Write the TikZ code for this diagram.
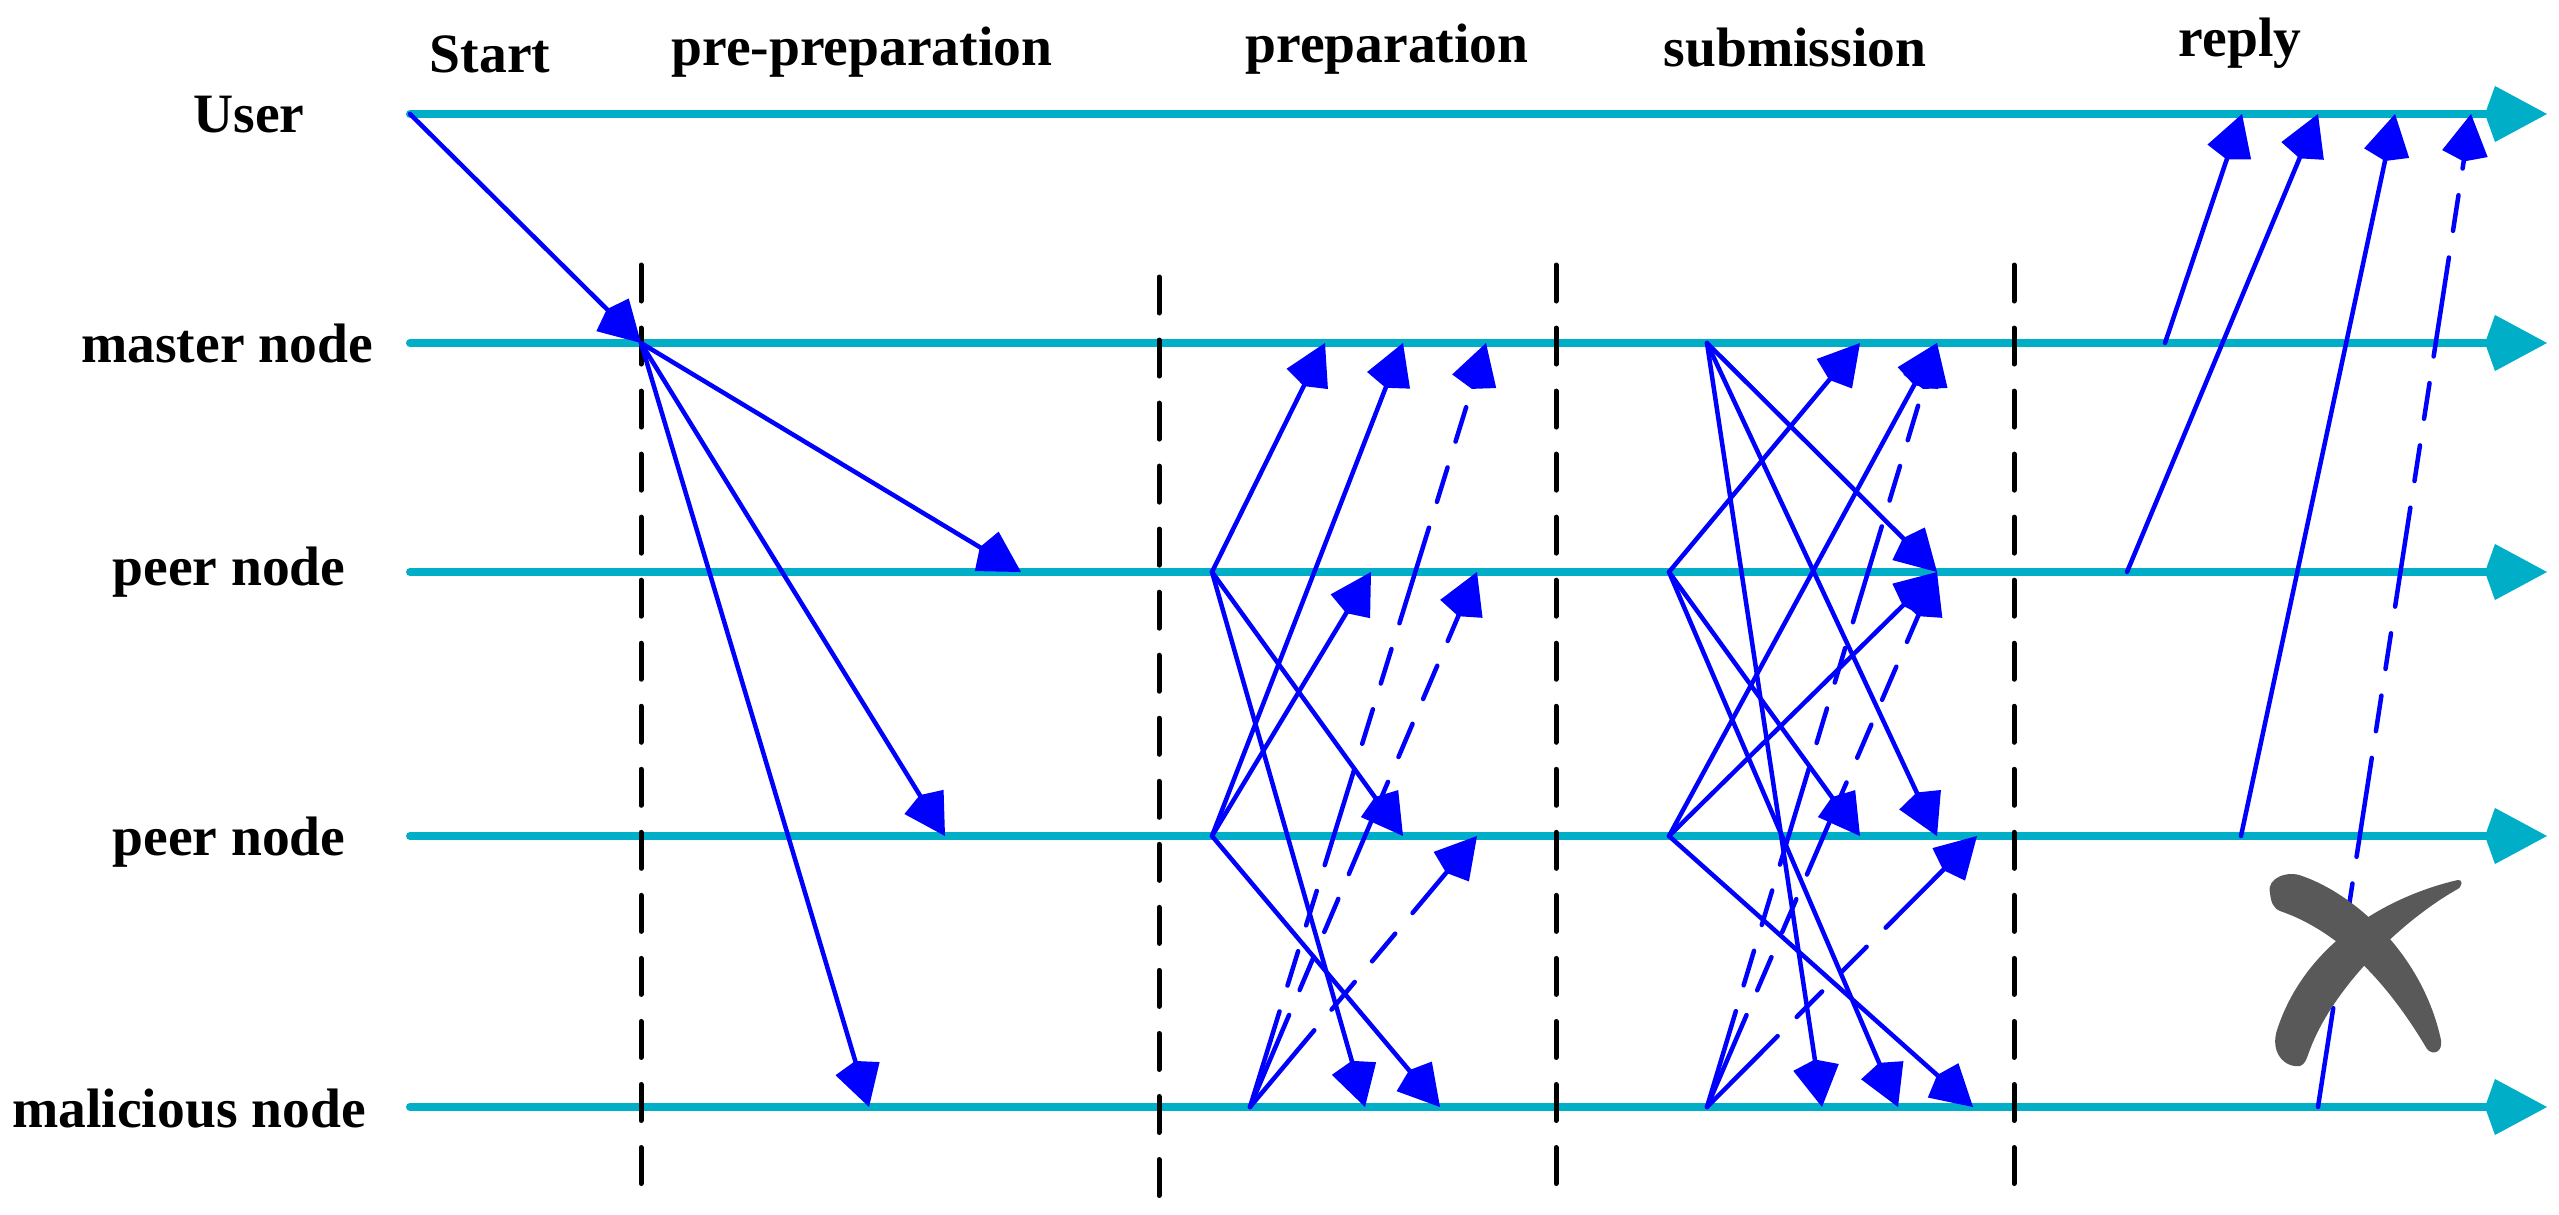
\documentclass[tikz,border=0pt]{standalone}
\usepackage{fontspec}
\setmainfont{Liberation Serif}
\usepackage{xcolor}
\usepackage{tikz}
\usetikzlibrary{arrows.meta}

\definecolor{lanecyan}{RGB}{0,174,200}
\definecolor{crossgray}{RGB}{89,89,89}

\begin{document}
\begin{tikzpicture}[x=0.01cm, y=-0.01cm]
        \useasboundingbox (0,0) rectangle (2559,1215);
        \tikzstyle{Lane} = [draw=lanecyan, line width=0.08cm, line cap=round, -{Kite[length=0.62cm, width=0.56cm, inset=0.1cm]}]
        \tikzstyle{Phase} = [draw=black, line width=0.05cm, line cap=round, dash pattern=on 0.36cm off 0.27cm]
        \tikzstyle{Msg} = [draw=blue, line width=0.045cm, line cap=round, -{Kite[length=0.48cm, width=0.46cm, inset=0.08cm]}]
        \tikzstyle{FakeMsg} = [Msg, dash pattern=on 1cm off 0.27cm on 0.36cm off 0.27cm on 0.36cm off 0.27cm]
        \tikzstyle{Label} = [font=\fontsize{15.8}{19}\selectfont\bfseries, anchor=base, inner sep=0pt]
        % row and phase labels
        \node[Label] (user) at (249,133) {User};
        \node[Label] (master) at (227,362) {master node};
        \node[Label] (peerA) at (229,585) {peer node};
        \node[Label] (peerB) at (229,855) {peer node};
        \node[Label] (mal) at (189,1127) {malicious node};
        \node[Label] (start) at (490,73) {Start};
        \node[Label] (prepre) at (862,65) {pre-preparation};
        \node[Label] (prep) at (1387,63) {preparation};
        \node[Label] (submit) at (1795,67) {submission};
        \node[Label] (reply) at (2240,56) {reply};
        % time lines
        \foreach \r/\y in {u/114, m/343, pa/572, pb/836, x/1107} {
            \coordinate (\r-s) at (410,\y);
            \coordinate (\r-e) at (2547,\y);
            \draw[Lane] (\r-s) -- (\r-e);
        }
        % phase borders
        \foreach \i/\x/\t/\b in {1/641/265/1195, 2/1159/277/1200, 3/1556/265/1200, 4/2014/265/1195} {
            \coordinate (ph\i-t) at (\x,\t);
            \coordinate (ph\i-b) at (\x,\b);
            \draw[Phase] (ph\i-t) -- (ph\i-b);
        }
        % pre-preparation
        \coordinate (m1) at (641,343);
        \coordinate (pa1) at (1021,572);
        \coordinate (pb1) at (945,836);
        \coordinate (x1) at (869,1107);
        \draw[Msg] (u-s) -- (m1);
        \draw[Msg] (m1) -- (pa1);
        \draw[Msg] (m1) -- (pb1);
        \draw[Msg] (m1) -- (x1);
        % preparation
        \coordinate (pa2) at (1212,572);
        \coordinate (pb2) at (1212,836);
        \coordinate (x2) at (1250,1107);
        \coordinate (m2a) at (1325,343);
        \coordinate (m2b) at (1403,343);
        \coordinate (m2c) at (1486,343);
        \coordinate (pa2a) at (1371,572);
        \coordinate (pa2b) at (1477,572);
        \coordinate (pb2a) at (1403,836);
        \coordinate (pb2b) at (1477,836);
        \coordinate (x2a) at (1365,1107);
        \coordinate (x2b) at (1440,1107);
        \draw[Msg] (pa2) -- (m2a);
        \draw[Msg] (pa2) -- (pb2a);
        \draw[Msg] (pa2) -- (x2a);
        \draw[Msg] (pb2) -- (m2b);
        \draw[Msg] (pb2) -- (pa2a);
        \draw[Msg] (pb2) -- (x2b);
        \draw[FakeMsg] (x2) -- (m2c);
        \draw[FakeMsg] (x2) -- (pa2b);
        \draw[FakeMsg] (x2) -- (pb2b);
        % submission
        \coordinate (m3) at (1707,343);
        \coordinate (pa3) at (1669,572);
        \coordinate (pb3) at (1669,836);
        \coordinate (x3) at (1707,1107);
        \coordinate (m3a) at (1860,343);
        \coordinate (m3b) at (1937,343);
        \coordinate (pa3a) at (1937,572);
        \coordinate (pb3a) at (1860,836);
        \coordinate (pb3b) at (1937,836);
        \coordinate (pb3c) at (1977,836);
        \coordinate (x3a) at (1822,1107);
        \coordinate (x3b) at (1898,1107);
        \coordinate (x3c) at (1973,1107);
        \draw[Msg] (m3) -- (pa3a);
        \draw[Msg] (m3) -- (pb3b);
        \draw[Msg] (m3) -- (x3a);
        \draw[Msg] (pa3) -- (m3a);
        \draw[Msg] (pa3) -- (pb3a);
        \draw[Msg] (pa3) -- (x3b);
        \draw[Msg] (pb3) -- (m3b);
        \draw[Msg] (pb3) -- (pa3a);
        \draw[Msg] (pb3) -- (x3c);
        \draw[FakeMsg] (x3) -- (m3b);
        \draw[FakeMsg] (x3) -- (pa3a);
        \draw[FakeMsg] (x3) -- (pb3c);
        % reply
        \coordinate (m4) at (2165,343);
        \coordinate (pa4) at (2127,572);
        \coordinate (pb4) at (2241,836);
        \coordinate (x4) at (2318,1107);
        \coordinate (u4a) at (2242,114);
        \coordinate (u4b) at (2318,114);
        \coordinate (u4c) at (2395,114);
        \coordinate (u4d) at (2471,114);
        \draw[Msg] (m4) -- (u4a);
        \draw[Msg] (pa4) -- (u4b);
        \draw[Msg] (pb4) -- (u4c);
        \draw[FakeMsg] (x4) -- (u4d);
        % the cross
        \fill[crossgray] (2270,893) .. controls (2266,878) and (2288,870) .. (2302,876)
            .. controls (2352,893) and (2422,952) .. (2441,1040)
            .. controls (2443,1052) and (2433,1056) .. (2427,1049)
            .. controls (2398,1000) and (2350,935) .. (2280,911)
            .. controls (2273,908) and (2271,902) .. cycle;
        \fill[crossgray] (2458,880) .. controls (2400,893) and (2308,935) .. (2277,1030)
            .. controls (2270,1052) and (2284,1068) .. (2300,1066)
            .. controls (2305,1064) and (2306,1060) .. (2308,1055)
            .. controls (2330,990) and (2400,922) .. (2456,890)
            .. controls (2463,887) and (2463,879) .. cycle;
    \end{tikzpicture}
\end{document}
